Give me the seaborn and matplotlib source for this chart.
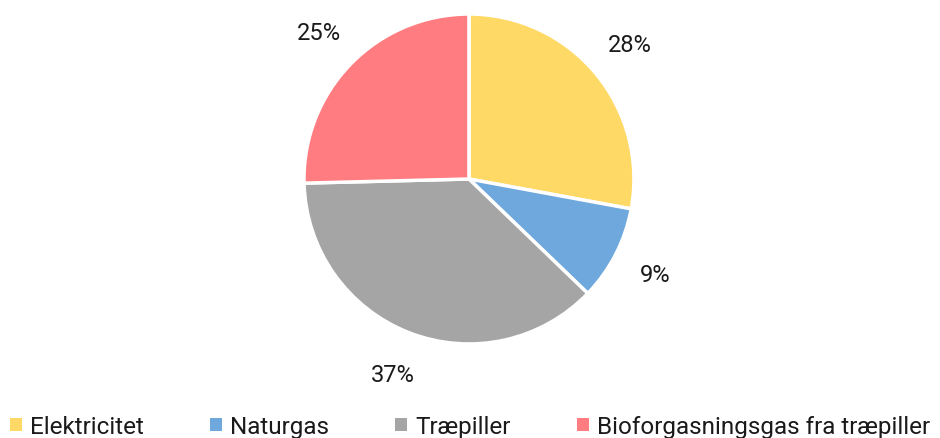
import matplotlib
matplotlib.use("Agg")
import matplotlib.pyplot as plt
import seaborn as sns
from matplotlib.patches import Patch
from matplotlib import font_manager

sns.set_theme(style="white")
names = {f.name for f in font_manager.fontManager.ttflist}
fam = "Liberation Sans Narrow" if "Liberation Sans Narrow" in names else "Roboto"
plt.rcParams['font.family'] = [fam, 'DejaVu Sans']

categories = ["Elektricitet", "Naturgas", "Træpiller", "Bioforgasningsgas fra træpiller"]
values = [27.9, 9.3, 37.4, 25.4]
colors = ["#FFD966", "#6FA8DC", "#A5A5A5", "#FF7C80"]

fig = plt.figure(figsize=(9.4, 4.39), dpi=100)
ax = fig.add_axes([0.3234, 0.214, 0.351, 0.752])
wedges, _, autotexts = ax.pie(values, colors=colors, startangle=90, counterclock=False,
                              autopct=lambda p: f"{p:.0f}%", pctdistance=1.27,
                              wedgeprops=dict(edgecolor="white", linewidth=2.5),
                              textprops=dict(fontsize=17, color="#1a1a1a"))
ax.set_xlim(-1, 1)
ax.set_ylim(-1, 1)
ax.set_aspect("equal")

handles = [Patch(facecolor=c, edgecolor="none") for c in colors]
fig.legend(handles, categories, loc="lower center", bbox_to_anchor=(0.5, -0.05), ncol=4,
           frameon=False, fontsize=17.5, handlelength=0.5, handleheight=0.5,
           handletextpad=0.35, columnspacing=2.7, labelcolor="#1a1a1a")
fig.savefig("out.png", dpi=100)
